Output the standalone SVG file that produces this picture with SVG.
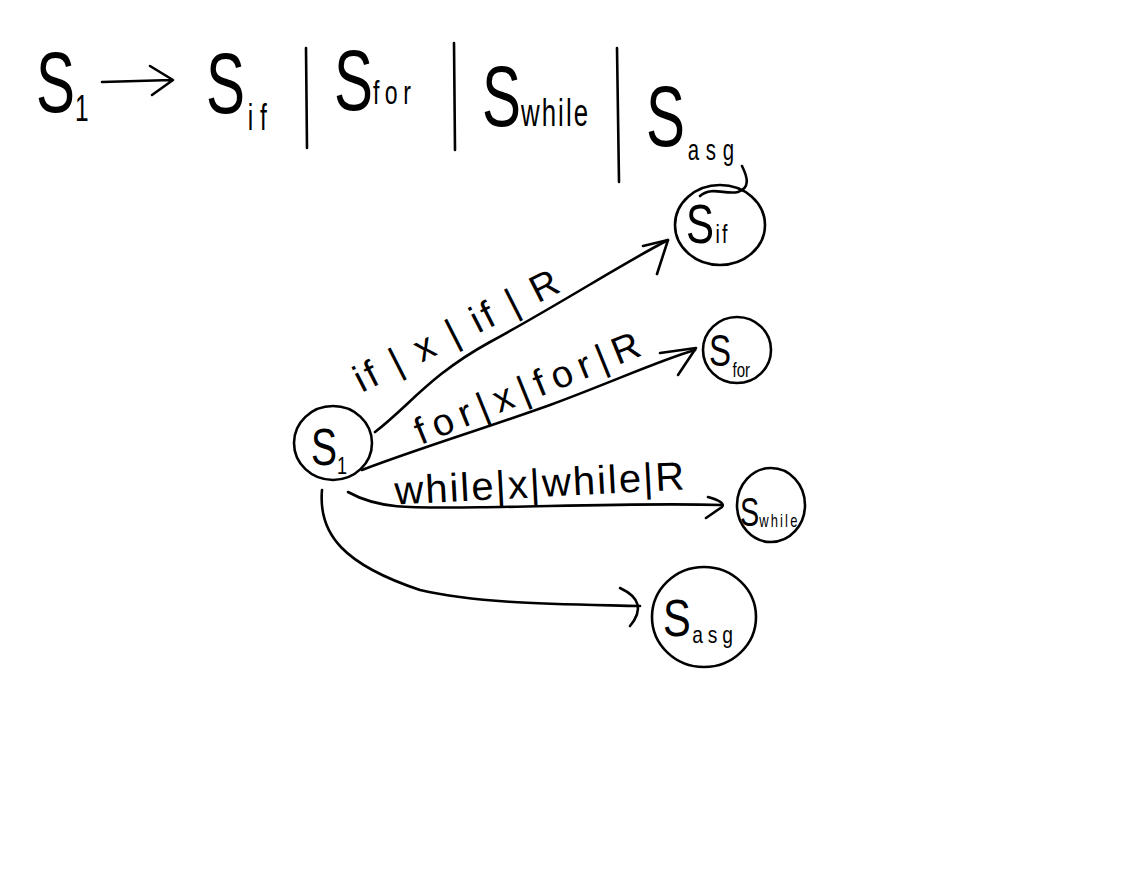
<svg xmlns="http://www.w3.org/2000/svg" width="1143" height="873" viewBox="0 0 1143 873">
<style>
.t{font-family:"Liberation Sans","DejaVu Sans",sans-serif;fill:#000}
.s{fill:none;stroke:#000;stroke-width:2.6;stroke-linecap:round;stroke-linejoin:round}
</style>
<rect width="1143" height="873" fill="#fff"/>
<g id="production">
<text class="t" transform="translate(36,112) scale(0.68,1)" font-size="86">S<tspan font-size="36" dy="9">1</tspan></text>
<path class="s" d="M102,82 L172,80 M150,66 L173,80 L152,95"/>
<text class="t" transform="translate(206,113) scale(0.68,1)" font-size="86">S<tspan font-size="36" dy="17" dx="4" letter-spacing="10">if</tspan></text>
<path class="s" d="M306,48 L307,148"/>
<text class="t" transform="translate(334,110) scale(0.68,1)" font-size="86">S<tspan font-size="34" dy="-6" letter-spacing="8">for</tspan></text>
<path class="s" d="M454,43 L455,150"/>
<text class="t" transform="translate(482,126) scale(0.68,1)" font-size="86">S<tspan font-size="38" letter-spacing="3">while</tspan></text>
<path class="s" d="M617,48 L619,182"/>
<text class="t" transform="translate(646,146) scale(0.68,1)" font-size="86">S<tspan font-size="30" dy="14" dx="4" letter-spacing="10">asg</tspan></text>
</g>
<g id="connectors">
<path class="s" d="M375,432 C410,405 430,375 490,342 C560,304 620,265 668,240"/>
<path class="s" d="M643,246 L668,240 L657,274"/>
<path class="s" d="M362,470 C420,448 480,430 550,405 C610,383 660,360 695,350"/>
<path class="s" d="M660,353 L696,348 L678,375"/>
<path class="s" d="M348,492 C380,510 410,508 500,507 C600,505 660,503 722,505"/>
<path class="s" d="M708,497 Q726,502 722,507 L706,518"/>
<path class="s" d="M322,490 C318,535 345,565 420,590 C480,604 560,604 640,606"/>
<path class="s" d="M620,588 Q650,602 630,626"/>
<path class="s" d="M742,166 C748,178 750,188 738,192 C725,195 712,186 700,196"/>
<text class="t" x="462" y="342" font-size="38" text-anchor="middle" transform="rotate(-27 462 342)" textLength="225" lengthAdjust="spacing">if | x | if | R</text>
<text class="t" x="532" y="400" font-size="38" text-anchor="middle" transform="rotate(-22 532 400)" textLength="240" lengthAdjust="spacing">for|x|for|R</text>
<text class="t" x="540" y="497" font-size="40" text-anchor="middle" transform="rotate(-3 540 497)" textLength="290" lengthAdjust="spacing">while|x|while|R</text>
</g>
<g id="node-s1">
<ellipse class="s" cx="333" cy="443" rx="39" ry="37"/>
<text class="t" transform="translate(311,465) scale(0.75,1)" font-size="52">S<tspan font-size="24" dy="9">1</tspan></text>
</g>
<g id="node-sif">
<ellipse class="s" cx="720" cy="225" rx="45" ry="40"/>
<text class="t" transform="translate(686,243) scale(0.75,1)" font-size="56">S<tspan font-size="26" dx="2" letter-spacing="3">if</tspan></text>
</g>
<g id="node-sfor">
<ellipse class="s" cx="737" cy="350" rx="34" ry="33"/>
<text class="t" transform="translate(709,366) scale(0.75,1)" font-size="44">S<tspan font-size="20" dy="11" dx="2">for</tspan></text>
</g>
<g id="node-swhile">
<ellipse class="s" cx="771" cy="505" rx="34" ry="37"/>
<text class="t" transform="translate(740,526) scale(0.72,1)" font-size="40">S<tspan font-size="18" dy="1" letter-spacing="3">while</tspan></text>
</g>
<g id="node-sasg">
<ellipse class="s" cx="704" cy="617" rx="52" ry="50"/>
<text class="t" transform="translate(663,636) scale(0.8,1)" font-size="52">S<tspan font-size="24" dy="7" dx="2" letter-spacing="6">asg</tspan></text>
</g>
</svg>
